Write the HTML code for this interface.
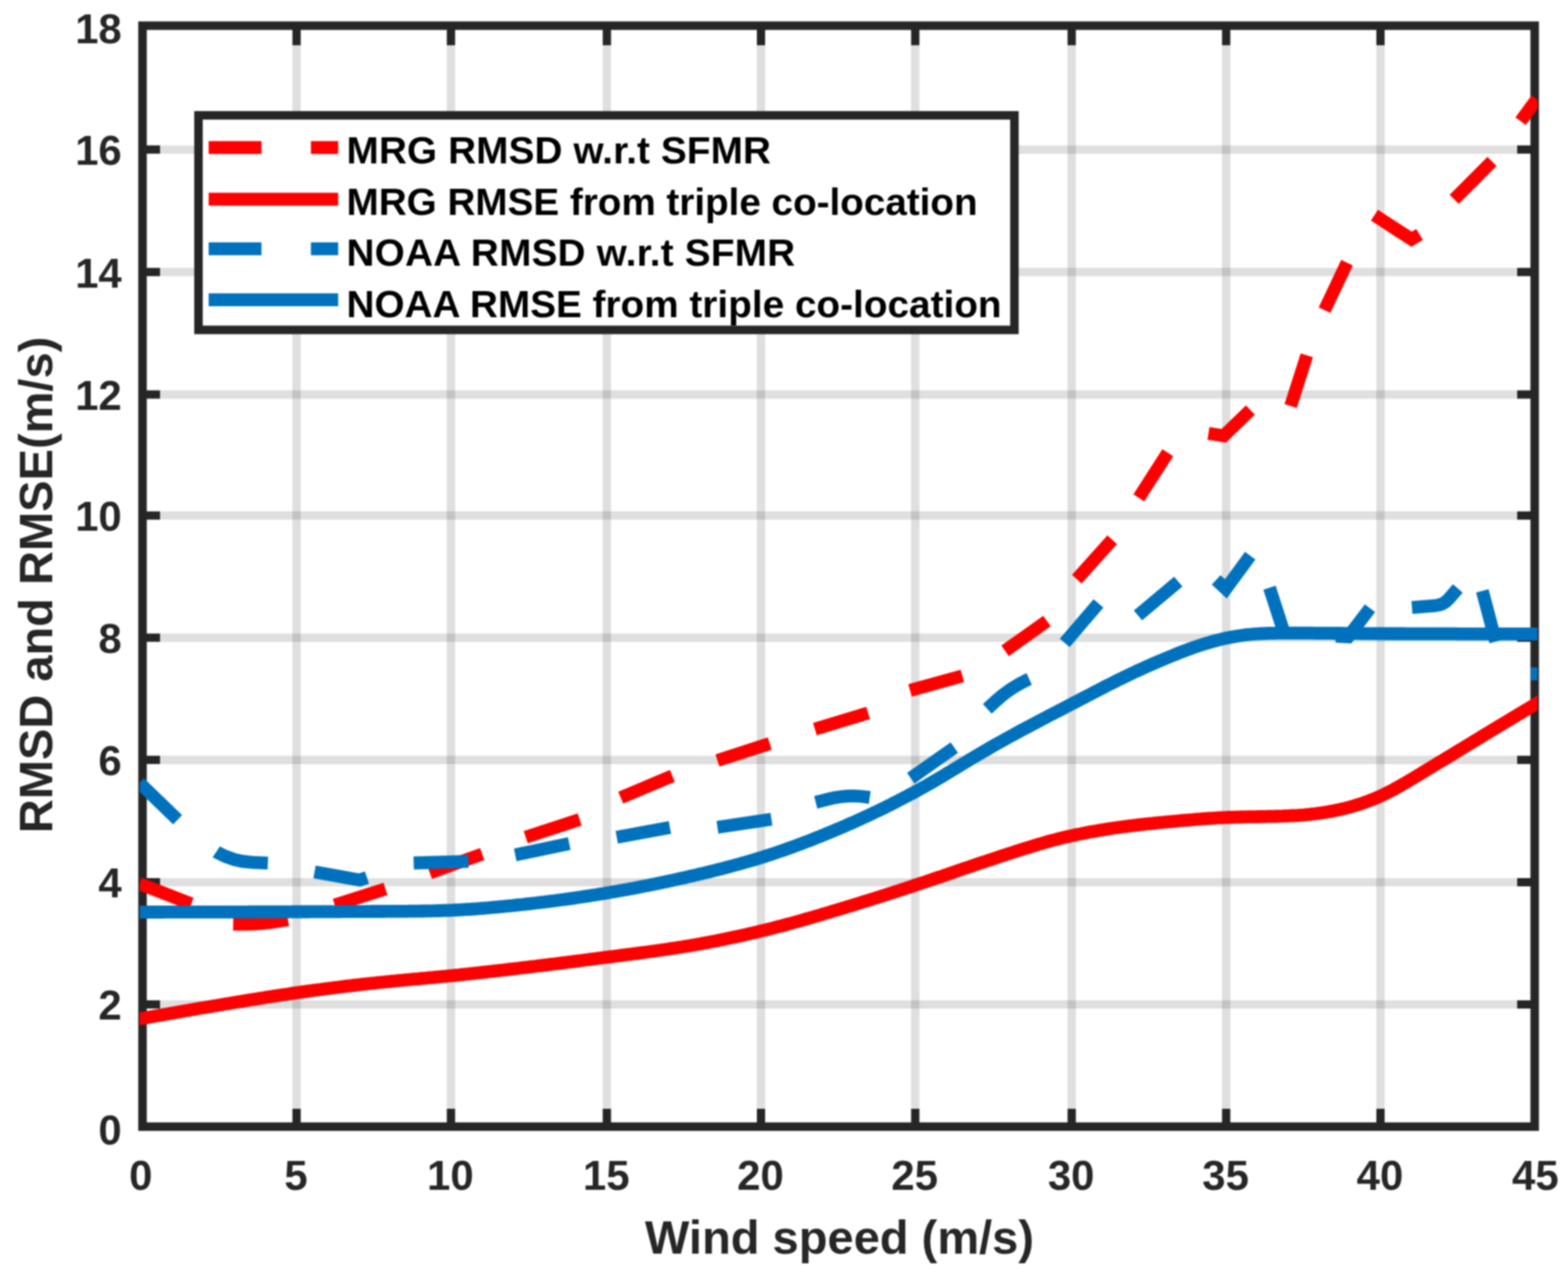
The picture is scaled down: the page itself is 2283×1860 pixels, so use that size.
<!DOCTYPE html>
<html lang="en"><head><meta charset="utf-8"><title>RMSD and RMSE vs wind speed</title>
<style>html,body{margin:0;padding:0;background:#fff;}body{width:2283px;height:1860px;}svg{display:block;filter:blur(1px);}text{font-family:"Liberation Sans",Arial,Helvetica,sans-serif;font-weight:bold;}</style>
</head><body>
<svg width="2283" height="1860" viewBox="0 0 2283 1860">
<rect x="0" y="0" width="2283" height="1860" fill="#ffffff"/>
<g stroke="#262626" stroke-opacity="0.15" stroke-width="12.2" fill="none">
<line x1="431.8" y1="37.4" x2="431.8" y2="1641.0"/>
<line x1="656.6" y1="37.4" x2="656.6" y2="1641.0"/>
<line x1="883.6" y1="37.4" x2="883.6" y2="1641.0"/>
<line x1="1108.0" y1="37.4" x2="1108.0" y2="1641.0"/>
<line x1="1332.6" y1="37.4" x2="1332.6" y2="1641.0"/>
<line x1="1560.4" y1="37.4" x2="1560.4" y2="1641.0"/>
<line x1="1785.3" y1="37.4" x2="1785.3" y2="1641.0"/>
<line x1="2010.0" y1="37.4" x2="2010.0" y2="1641.0"/>
<line x1="207.5" y1="1463.0" x2="2234.5" y2="1463.0"/>
<line x1="207.5" y1="1285.0" x2="2234.5" y2="1285.0"/>
<line x1="207.5" y1="1106.8" x2="2234.5" y2="1106.8"/>
<line x1="207.5" y1="928.8" x2="2234.5" y2="928.8"/>
<line x1="207.5" y1="750.9" x2="2234.5" y2="750.9"/>
<line x1="207.5" y1="574.6" x2="2234.5" y2="574.6"/>
<line x1="207.5" y1="396.2" x2="2234.5" y2="396.2"/>
<line x1="207.5" y1="217.8" x2="2234.5" y2="217.8"/>
</g>
<g stroke="#262626" stroke-width="12.4" fill="none" stroke-linecap="butt">
<rect x="207.5" y="37.4" width="2027.0" height="1603.6"/>
</g>
<g stroke="#262626" stroke-width="12" fill="none" stroke-linecap="butt">
<line x1="431.8" y1="1641.0" x2="431.8" y2="1615.0"/>
<line x1="431.8" y1="37.4" x2="431.8" y2="65.9"/>
<line x1="656.6" y1="1641.0" x2="656.6" y2="1615.0"/>
<line x1="656.6" y1="37.4" x2="656.6" y2="65.9"/>
<line x1="883.6" y1="1641.0" x2="883.6" y2="1615.0"/>
<line x1="883.6" y1="37.4" x2="883.6" y2="65.9"/>
<line x1="1108.0" y1="1641.0" x2="1108.0" y2="1615.0"/>
<line x1="1108.0" y1="37.4" x2="1108.0" y2="65.9"/>
<line x1="1332.6" y1="1641.0" x2="1332.6" y2="1615.0"/>
<line x1="1332.6" y1="37.4" x2="1332.6" y2="65.9"/>
<line x1="1560.4" y1="1641.0" x2="1560.4" y2="1615.0"/>
<line x1="1560.4" y1="37.4" x2="1560.4" y2="65.9"/>
<line x1="1785.3" y1="1641.0" x2="1785.3" y2="1615.0"/>
<line x1="1785.3" y1="37.4" x2="1785.3" y2="65.9"/>
<line x1="2010.0" y1="1641.0" x2="2010.0" y2="1615.0"/>
<line x1="2010.0" y1="37.4" x2="2010.0" y2="65.9"/>
<line x1="207.5" y1="1463.0" x2="233.0" y2="1463.0"/>
<line x1="2234.5" y1="1463.0" x2="2209.0" y2="1463.0"/>
<line x1="207.5" y1="1285.0" x2="233.0" y2="1285.0"/>
<line x1="2234.5" y1="1285.0" x2="2209.0" y2="1285.0"/>
<line x1="207.5" y1="1106.8" x2="233.0" y2="1106.8"/>
<line x1="2234.5" y1="1106.8" x2="2209.0" y2="1106.8"/>
<line x1="207.5" y1="928.8" x2="233.0" y2="928.8"/>
<line x1="2234.5" y1="928.8" x2="2209.0" y2="928.8"/>
<line x1="207.5" y1="750.9" x2="233.0" y2="750.9"/>
<line x1="2234.5" y1="750.9" x2="2209.0" y2="750.9"/>
<line x1="207.5" y1="574.6" x2="233.0" y2="574.6"/>
<line x1="2234.5" y1="574.6" x2="2209.0" y2="574.6"/>
<line x1="207.5" y1="396.2" x2="233.0" y2="396.2"/>
<line x1="2234.5" y1="396.2" x2="2209.0" y2="396.2"/>
<line x1="207.5" y1="217.8" x2="233.0" y2="217.8"/>
<line x1="2234.5" y1="217.8" x2="2209.0" y2="217.8"/>
</g>
<defs><clipPath id="plotclip"><rect x="203.5" y="30" width="2035.1" height="1620.0"/></clipPath></defs>
<g clip-path="url(#plotclip)" fill="none" stroke-linecap="butt" stroke-linejoin="miter" stroke-width="18.8">
<path d="M203.0 1287.2 L278.5 1316.5" stroke="#ff0000"/>
<path d="M339.5 1346.0 L352.0 1346.2 Q380.0 1346.5 407.6 1341.6 L419.3 1339.5" stroke="#ff0000"/>
<path d="M487.4 1318.2 L561.3 1294.7" stroke="#ff0000"/>
<path d="M625.8 1271.3 L702.1 1244.0" stroke="#ff0000"/>
<path d="M765.4 1219.4 L844.0 1193.6" stroke="#ff0000"/>
<path d="M903.8 1161.9 L978.9 1130.2" stroke="#ff0000"/>
<path d="M1044.6 1107.6 L1120.8 1083.0" stroke="#ff0000"/>
<path d="M1186.5 1061.9 L1264.0 1038.4" stroke="#ff0000"/>
<path d="M1325.0 1005.6 L1401.2 984.5" stroke="#ff0000"/>
<path d="M1463.4 948.0 L1524.4 904.6" stroke="#ff0000"/>
<path d="M1567.8 843.6 L1619.4 786.1" stroke="#ff0000"/>
<path d="M1658.1 725.1 L1700.3 659.4" stroke="#ff0000"/>
<path d="M1759.5 631.3 L1781.8 634.8 L1820.6 597.3" stroke="#ff0000"/>
<path d="M1879.2 591.4 L1902.7 517.5" stroke="#ff0000"/>
<path d="M1928.5 451.8 L1961.3 382.6" stroke="#ff0000"/>
<path d="M2001.2 313.4 L2055.2 348.5 L2066.9 341.5" stroke="#ff0000"/>
<path d="M2117.3 290.3 L2172.4 235.2" stroke="#ff0000"/>
<path d="M2214.0 176.5 L2237.5 144.5" stroke="#ff0000"/>
<path d="M194.5 1485.6 L198.1 1484.9 L201.7 1484.3 L205.2 1483.6 L208.8 1483.0 L212.4 1482.4 L216.0 1481.7 L219.6 1481.1 L223.2 1480.4 L226.7 1479.8 L230.3 1479.2 L233.9 1478.5 L237.5 1477.9 L241.1 1477.3 L244.7 1476.7 L248.2 1476.0 L251.8 1475.4 L255.4 1474.8 L259.0 1474.2 L262.6 1473.5 L266.1 1472.9 L269.7 1472.3 L273.3 1471.7 L276.9 1471.1 L280.5 1470.4 L284.1 1469.8 L287.6 1469.2 L291.2 1468.6 L294.8 1468.0 L298.4 1467.4 L302.0 1466.8 L305.6 1466.2 L309.1 1465.6 L312.7 1465.0 L316.3 1464.4 L319.9 1463.8 L323.5 1463.2 L327.1 1462.6 L330.6 1462.0 L334.2 1461.4 L337.8 1460.8 L341.4 1460.2 L345.0 1459.6 L348.6 1459.0 L352.1 1458.4 L355.7 1457.8 L359.3 1457.2 L362.9 1456.6 L366.5 1456.0 L370.1 1455.5 L373.6 1454.9 L377.2 1454.3 L380.8 1453.7 L384.4 1453.2 L388.0 1452.6 L391.6 1452.0 L395.1 1451.5 L398.7 1450.9 L402.3 1450.4 L405.9 1449.8 L409.5 1449.3 L413.0 1448.7 L416.6 1448.2 L420.2 1447.7 L423.8 1447.1 L427.4 1446.6 L431.0 1446.1 L434.5 1445.6 L438.1 1445.1 L441.7 1444.6 L445.3 1444.1 L448.9 1443.6 L452.5 1443.1 L456.0 1442.6 L459.6 1442.1 L463.2 1441.7 L466.8 1441.2 L470.4 1440.7 L474.0 1440.2 L477.5 1439.8 L481.1 1439.3 L484.7 1438.9 L488.3 1438.4 L491.9 1438.0 L495.5 1437.5 L499.0 1437.1 L502.6 1436.6 L506.2 1436.2 L509.8 1435.8 L513.4 1435.4 L517.0 1434.9 L520.5 1434.5 L524.1 1434.1 L527.7 1433.7 L531.3 1433.3 L534.9 1432.9 L538.5 1432.5 L542.0 1432.1 L545.6 1431.8 L549.2 1431.4 L552.8 1431.0 L556.4 1430.6 L559.9 1430.3 L563.5 1429.9 L567.1 1429.6 L570.7 1429.2 L574.3 1428.9 L577.9 1428.5 L581.4 1428.2 L585.0 1427.9 L588.6 1427.5 L592.2 1427.2 L595.8 1426.9 L599.4 1426.5 L602.9 1426.2 L606.5 1425.9 L610.1 1425.6 L613.7 1425.2 L617.3 1424.9 L620.9 1424.6 L624.4 1424.2 L628.0 1423.9 L631.6 1423.6 L635.2 1423.2 L638.8 1422.9 L642.4 1422.5 L645.9 1422.2 L649.5 1421.9 L653.1 1421.5 L656.7 1421.1 L660.3 1420.8 L663.9 1420.4 L667.4 1420.1 L671.0 1419.7 L674.6 1419.3 L678.2 1418.9 L681.8 1418.6 L685.4 1418.2 L688.9 1417.8 L692.5 1417.4 L696.1 1417.0 L699.7 1416.6 L703.3 1416.2 L706.8 1415.8 L710.4 1415.4 L714.0 1415.0 L717.6 1414.6 L721.2 1414.2 L724.8 1413.8 L728.3 1413.4 L731.9 1413.0 L735.5 1412.6 L739.1 1412.1 L742.7 1411.7 L746.3 1411.3 L749.8 1410.9 L753.4 1410.5 L757.0 1410.0 L760.6 1409.6 L764.2 1409.2 L767.8 1408.8 L771.3 1408.3 L774.9 1407.9 L778.5 1407.5 L782.1 1407.0 L785.7 1406.6 L789.3 1406.2 L792.8 1405.7 L796.4 1405.3 L800.0 1404.8 L803.6 1404.4 L807.2 1404.0 L810.8 1403.5 L814.3 1403.1 L817.9 1402.6 L821.5 1402.2 L825.1 1401.7 L828.7 1401.2 L832.3 1400.8 L835.8 1400.3 L839.4 1399.9 L843.0 1399.4 L846.6 1399.0 L850.2 1398.5 L853.7 1398.0 L857.3 1397.6 L860.9 1397.1 L864.5 1396.7 L868.1 1396.2 L871.7 1395.7 L875.2 1395.3 L878.8 1394.8 L882.4 1394.3 L886.0 1393.9 L889.6 1393.4 L893.2 1393.0 L896.7 1392.5 L900.3 1392.1 L903.9 1391.6 L907.5 1391.1 L911.1 1390.7 L914.7 1390.2 L918.2 1389.8 L921.8 1389.3 L925.4 1388.8 L929.0 1388.4 L932.6 1387.9 L936.2 1387.4 L939.7 1387.0 L943.3 1386.5 L946.9 1386.0 L950.5 1385.5 L954.1 1385.0 L957.7 1384.5 L961.2 1384.0 L964.8 1383.5 L968.4 1383.0 L972.0 1382.5 L975.6 1381.9 L979.2 1381.4 L982.7 1380.9 L986.3 1380.3 L989.9 1379.7 L993.5 1379.2 L997.1 1378.6 L1000.6 1378.0 L1004.2 1377.4 L1007.8 1376.8 L1011.4 1376.2 L1015.0 1375.5 L1018.6 1374.9 L1022.1 1374.2 L1025.7 1373.6 L1029.3 1372.9 L1032.9 1372.2 L1036.5 1371.6 L1040.1 1370.9 L1043.6 1370.2 L1047.2 1369.4 L1050.8 1368.7 L1054.4 1368.0 L1058.0 1367.3 L1061.6 1366.5 L1065.1 1365.8 L1068.7 1365.0 L1072.3 1364.2 L1075.9 1363.4 L1079.5 1362.7 L1083.1 1361.9 L1086.6 1361.1 L1090.2 1360.2 L1093.8 1359.4 L1097.4 1358.6 L1101.0 1357.8 L1104.6 1356.9 L1108.1 1356.0 L1111.7 1355.2 L1115.3 1354.3 L1118.9 1353.4 L1122.5 1352.5 L1126.1 1351.6 L1129.6 1350.7 L1133.2 1349.7 L1136.8 1348.8 L1140.4 1347.9 L1144.0 1346.9 L1147.5 1345.9 L1151.1 1345.0 L1154.7 1344.0 L1158.3 1343.0 L1161.9 1342.0 L1165.5 1341.0 L1169.0 1339.9 L1172.6 1338.9 L1176.2 1337.9 L1179.8 1336.9 L1183.4 1335.8 L1187.0 1334.8 L1190.5 1333.7 L1194.1 1332.7 L1197.7 1331.6 L1201.3 1330.5 L1204.9 1329.5 L1208.5 1328.4 L1212.0 1327.3 L1215.6 1326.3 L1219.2 1325.2 L1222.8 1324.1 L1226.4 1323.0 L1230.0 1321.9 L1233.5 1320.9 L1237.1 1319.8 L1240.7 1318.7 L1244.3 1317.6 L1247.9 1316.5 L1251.5 1315.4 L1255.0 1314.2 L1258.6 1313.1 L1262.2 1312.0 L1265.8 1310.9 L1269.4 1309.8 L1273.0 1308.6 L1276.5 1307.5 L1280.1 1306.4 L1283.7 1305.2 L1287.3 1304.1 L1290.9 1302.9 L1294.5 1301.8 L1298.0 1300.6 L1301.6 1299.5 L1305.2 1298.3 L1308.8 1297.1 L1312.4 1296.0 L1315.9 1294.8 L1319.5 1293.6 L1323.1 1292.4 L1326.7 1291.3 L1330.3 1290.1 L1333.9 1288.9 L1337.4 1287.7 L1341.0 1286.5 L1344.6 1285.3 L1348.2 1284.1 L1351.8 1282.9 L1355.4 1281.7 L1358.9 1280.5 L1362.5 1279.2 L1366.1 1278.0 L1369.7 1276.8 L1373.3 1275.6 L1376.9 1274.3 L1380.4 1273.1 L1384.0 1271.9 L1387.6 1270.6 L1391.2 1269.4 L1394.8 1268.2 L1398.4 1267.0 L1401.9 1265.7 L1405.5 1264.5 L1409.1 1263.3 L1412.7 1262.1 L1416.3 1260.9 L1419.9 1259.6 L1423.4 1258.4 L1427.0 1257.2 L1430.6 1256.0 L1434.2 1254.8 L1437.8 1253.6 L1441.4 1252.5 L1444.9 1251.3 L1448.5 1250.1 L1452.1 1248.9 L1455.7 1247.7 L1459.3 1246.5 L1462.8 1245.4 L1466.4 1244.2 L1470.0 1243.0 L1473.6 1241.9 L1477.2 1240.7 L1480.8 1239.5 L1484.3 1238.4 L1487.9 1237.2 L1491.5 1236.1 L1495.1 1235.0 L1498.7 1233.9 L1502.3 1232.8 L1505.8 1231.7 L1509.4 1230.6 L1513.0 1229.5 L1516.6 1228.5 L1520.2 1227.4 L1523.8 1226.4 L1527.3 1225.4 L1530.9 1224.4 L1534.5 1223.5 L1538.1 1222.6 L1541.7 1221.6 L1545.3 1220.7 L1548.8 1219.9 L1552.4 1219.0 L1556.0 1218.2 L1559.6 1217.4 L1563.2 1216.6 L1566.8 1215.8 L1570.3 1215.1 L1573.9 1214.4 L1577.5 1213.7 L1581.1 1213.0 L1584.7 1212.3 L1588.3 1211.6 L1591.8 1211.0 L1595.4 1210.4 L1599.0 1209.7 L1602.6 1209.1 L1606.2 1208.6 L1609.7 1208.0 L1613.3 1207.4 L1616.9 1206.9 L1620.5 1206.3 L1624.1 1205.8 L1627.7 1205.3 L1631.2 1204.8 L1634.8 1204.3 L1638.4 1203.8 L1642.0 1203.4 L1645.6 1202.9 L1649.2 1202.5 L1652.7 1202.0 L1656.3 1201.6 L1659.9 1201.2 L1663.5 1200.8 L1667.1 1200.4 L1670.7 1200.0 L1674.2 1199.6 L1677.8 1199.3 L1681.4 1198.9 L1685.0 1198.5 L1688.6 1198.2 L1692.2 1197.9 L1695.7 1197.5 L1699.3 1197.2 L1702.9 1196.8 L1706.5 1196.5 L1710.1 1196.2 L1713.7 1195.9 L1717.2 1195.5 L1720.8 1195.2 L1724.4 1194.9 L1728.0 1194.6 L1731.6 1194.3 L1735.2 1194.0 L1738.7 1193.7 L1742.3 1193.4 L1745.9 1193.1 L1749.5 1192.8 L1753.1 1192.5 L1756.6 1192.3 L1760.2 1192.0 L1763.8 1191.8 L1767.4 1191.6 L1771.0 1191.4 L1774.6 1191.2 L1778.1 1191.0 L1781.7 1190.8 L1785.3 1190.7 L1788.9 1190.5 L1792.5 1190.4 L1796.1 1190.3 L1799.6 1190.2 L1803.2 1190.1 L1806.8 1190.0 L1810.4 1189.9 L1814.0 1189.8 L1817.6 1189.7 L1821.1 1189.7 L1824.7 1189.6 L1828.3 1189.6 L1831.9 1189.5 L1835.5 1189.4 L1839.1 1189.4 L1842.6 1189.3 L1846.2 1189.2 L1849.8 1189.2 L1853.4 1189.1 L1857.0 1189.0 L1860.6 1188.9 L1864.1 1188.8 L1867.7 1188.7 L1871.3 1188.5 L1874.9 1188.4 L1878.5 1188.2 L1882.1 1188.0 L1885.6 1187.8 L1889.2 1187.6 L1892.8 1187.3 L1896.4 1187.1 L1900.0 1186.8 L1903.5 1186.4 L1907.1 1186.1 L1910.7 1185.7 L1914.3 1185.3 L1917.9 1184.8 L1921.5 1184.4 L1925.0 1183.9 L1928.6 1183.3 L1932.2 1182.7 L1935.8 1182.1 L1939.4 1181.4 L1943.0 1180.7 L1946.5 1180.0 L1950.1 1179.2 L1953.7 1178.4 L1957.3 1177.6 L1960.9 1176.7 L1964.5 1175.7 L1968.0 1174.7 L1971.6 1173.7 L1975.2 1172.6 L1978.8 1171.5 L1982.4 1170.3 L1986.0 1169.1 L1989.5 1167.8 L1993.1 1166.5 L1996.7 1165.1 L2000.3 1163.7 L2003.9 1162.2 L2007.5 1160.6 L2011.0 1159.0 L2014.6 1157.3 L2018.2 1155.5 L2021.8 1153.7 L2025.4 1151.9 L2029.0 1150.0 L2032.5 1148.0 L2036.1 1146.0 L2039.7 1144.0 L2043.3 1141.9 L2046.9 1139.9 L2050.4 1137.8 L2054.0 1135.6 L2057.6 1133.5 L2061.2 1131.3 L2064.8 1129.2 L2068.4 1127.0 L2071.9 1124.8 L2075.5 1122.7 L2079.1 1120.5 L2082.7 1118.3 L2086.3 1116.1 L2089.9 1114.0 L2093.4 1111.8 L2097.0 1109.6 L2100.6 1107.4 L2104.2 1105.2 L2107.8 1103.0 L2111.4 1100.9 L2114.9 1098.7 L2118.5 1096.5 L2122.1 1094.3 L2125.7 1092.1 L2129.3 1089.9 L2132.9 1087.8 L2136.4 1085.6 L2140.0 1083.4 L2143.6 1081.2 L2147.2 1079.0 L2150.8 1076.9 L2154.4 1074.7 L2157.9 1072.5 L2161.5 1070.3 L2165.1 1068.2 L2168.7 1066.0 L2172.3 1063.8 L2175.9 1061.7 L2179.4 1059.5 L2183.0 1057.3 L2186.6 1055.2 L2190.2 1053.0 L2193.8 1050.9 L2197.3 1048.7 L2200.9 1046.5 L2204.5 1044.4 L2208.1 1042.2 L2211.7 1040.0 L2215.3 1037.9 L2218.8 1035.7 L2222.4 1033.6 L2226.0 1031.4 L2229.6 1029.2 L2233.2 1027.1 L2236.8 1024.9 L2240.3 1022.8 L2243.9 1020.6 L2247.5 1018.4" stroke="#ff0000"/>
<path d="M203.0 1140.2 L258.6 1193.9" stroke="#0072bd"/>
<path d="M314.9 1240.8 L315.2 1241.0 Q339.5 1254.9 367.5 1256.2 L390.0 1257.2" stroke="#0072bd"/>
<path d="M458.0 1270.1 L523.7 1281.8 L534.3 1278.3" stroke="#0072bd"/>
<path d="M602.3 1257.0 L682.1 1254.6" stroke="#0072bd"/>
<path d="M750.2 1245.2 L828.8 1228.8" stroke="#0072bd"/>
<path d="M898.0 1219.4 L975.4 1205.3" stroke="#0072bd"/>
<path d="M1044.6 1205.0 L1123.2 1193.3" stroke="#0072bd"/>
<path d="M1187.7 1168.7 L1207.4 1163.7 Q1234.6 1156.9 1262.3 1161.0 L1266.3 1161.6" stroke="#0072bd"/>
<path d="M1326.1 1133.5 L1389.5 1088.9" stroke="#0072bd"/>
<path d="M1437.5 1032.5 L1449.9 1021.0 Q1470.4 1002.0 1495.8 990.2 L1498.5 989.0" stroke="#0072bd"/>
<path d="M1550.2 936.3 L1599.4 878.8" stroke="#0072bd"/>
<path d="M1656.9 896.4 L1715.6 847.1" stroke="#0072bd"/>
<path d="M1770.7 844.7 L1784.8 857.7 L1820.3 809.4" stroke="#0072bd"/>
<path d="M1848.4 856.0 L1870.0 923.0" stroke="#0072bd"/>
<path d="M1945.0 926.5 L1963.0 927.5 L1994.7 885.9" stroke="#0072bd"/>
<path d="M2055.8 884.8 L2089.8 882.2 Q2101.8 881.3 2109.6 872.2 L2122.6 857.1" stroke="#0072bd"/>
<path d="M2158.3 860.6 L2177.8 934.5" stroke="#0072bd"/>
<path d="M2229.0 981.5 L2243.0 981.5" stroke="#0072bd"/>
<path d="M194.5 1328.5 L198.1 1328.5 L201.7 1328.5 L205.2 1328.5 L208.8 1328.5 L212.4 1328.5 L216.0 1328.5 L219.6 1328.5 L223.2 1328.5 L226.7 1328.5 L230.3 1328.5 L233.9 1328.5 L237.5 1328.5 L241.1 1328.4 L244.7 1328.4 L248.2 1328.4 L251.8 1328.4 L255.4 1328.4 L259.0 1328.4 L262.6 1328.4 L266.1 1328.4 L269.7 1328.4 L273.3 1328.4 L276.9 1328.4 L280.5 1328.4 L284.1 1328.4 L287.6 1328.4 L291.2 1328.4 L294.8 1328.4 L298.4 1328.4 L302.0 1328.4 L305.6 1328.4 L309.1 1328.4 L312.7 1328.3 L316.3 1328.3 L319.9 1328.3 L323.5 1328.3 L327.1 1328.3 L330.6 1328.3 L334.2 1328.3 L337.8 1328.3 L341.4 1328.3 L345.0 1328.3 L348.6 1328.3 L352.1 1328.3 L355.7 1328.3 L359.3 1328.3 L362.9 1328.2 L366.5 1328.2 L370.1 1328.2 L373.6 1328.2 L377.2 1328.2 L380.8 1328.2 L384.4 1328.2 L388.0 1328.2 L391.6 1328.2 L395.1 1328.2 L398.7 1328.1 L402.3 1328.1 L405.9 1328.1 L409.5 1328.1 L413.0 1328.1 L416.6 1328.1 L420.2 1328.1 L423.8 1328.1 L427.4 1328.0 L431.0 1328.0 L434.5 1328.0 L438.1 1328.0 L441.7 1328.0 L445.3 1328.0 L448.9 1328.0 L452.5 1327.9 L456.0 1327.9 L459.6 1327.9 L463.2 1327.9 L466.8 1327.9 L470.4 1327.9 L474.0 1327.9 L477.5 1327.8 L481.1 1327.8 L484.7 1327.8 L488.3 1327.8 L491.9 1327.8 L495.5 1327.8 L499.0 1327.7 L502.6 1327.7 L506.2 1327.7 L509.8 1327.7 L513.4 1327.7 L517.0 1327.7 L520.5 1327.6 L524.1 1327.6 L527.7 1327.6 L531.3 1327.6 L534.9 1327.6 L538.5 1327.6 L542.0 1327.5 L545.6 1327.5 L549.2 1327.5 L552.8 1327.5 L556.4 1327.5 L559.9 1327.5 L563.5 1327.4 L567.1 1327.4 L570.7 1327.4 L574.3 1327.4 L577.9 1327.4 L581.4 1327.3 L585.0 1327.3 L588.6 1327.3 L592.2 1327.3 L595.8 1327.2 L599.4 1327.2 L602.9 1327.2 L606.5 1327.1 L610.1 1327.1 L613.7 1327.0 L617.3 1327.0 L620.9 1326.9 L624.4 1326.8 L628.0 1326.8 L631.6 1326.7 L635.2 1326.6 L638.8 1326.5 L642.4 1326.4 L645.9 1326.2 L649.5 1326.1 L653.1 1326.0 L656.7 1325.8 L660.3 1325.7 L663.9 1325.5 L667.4 1325.3 L671.0 1325.1 L674.6 1324.9 L678.2 1324.7 L681.8 1324.5 L685.4 1324.3 L688.9 1324.0 L692.5 1323.8 L696.1 1323.5 L699.7 1323.2 L703.3 1323.0 L706.8 1322.7 L710.4 1322.4 L714.0 1322.0 L717.6 1321.7 L721.2 1321.4 L724.8 1321.1 L728.3 1320.7 L731.9 1320.4 L735.5 1320.0 L739.1 1319.7 L742.7 1319.3 L746.3 1319.0 L749.8 1318.6 L753.4 1318.2 L757.0 1317.8 L760.6 1317.5 L764.2 1317.1 L767.8 1316.7 L771.3 1316.3 L774.9 1315.9 L778.5 1315.5 L782.1 1315.0 L785.7 1314.6 L789.3 1314.2 L792.8 1313.8 L796.4 1313.3 L800.0 1312.9 L803.6 1312.4 L807.2 1312.0 L810.8 1311.5 L814.3 1311.0 L817.9 1310.5 L821.5 1310.1 L825.1 1309.6 L828.7 1309.1 L832.3 1308.6 L835.8 1308.1 L839.4 1307.5 L843.0 1307.0 L846.6 1306.5 L850.2 1305.9 L853.7 1305.4 L857.3 1304.9 L860.9 1304.3 L864.5 1303.7 L868.1 1303.2 L871.7 1302.6 L875.2 1302.0 L878.8 1301.4 L882.4 1300.8 L886.0 1300.2 L889.6 1299.6 L893.2 1299.0 L896.7 1298.4 L900.3 1297.8 L903.9 1297.1 L907.5 1296.5 L911.1 1295.8 L914.7 1295.2 L918.2 1294.5 L921.8 1293.9 L925.4 1293.2 L929.0 1292.5 L932.6 1291.8 L936.2 1291.1 L939.7 1290.4 L943.3 1289.7 L946.9 1288.9 L950.5 1288.2 L954.1 1287.5 L957.7 1286.7 L961.2 1286.0 L964.8 1285.2 L968.4 1284.5 L972.0 1283.7 L975.6 1282.9 L979.2 1282.2 L982.7 1281.4 L986.3 1280.6 L989.9 1279.8 L993.5 1279.0 L997.1 1278.2 L1000.6 1277.4 L1004.2 1276.5 L1007.8 1275.7 L1011.4 1274.9 L1015.0 1274.1 L1018.6 1273.2 L1022.1 1272.4 L1025.7 1271.5 L1029.3 1270.6 L1032.9 1269.8 L1036.5 1268.9 L1040.1 1268.0 L1043.6 1267.1 L1047.2 1266.2 L1050.8 1265.3 L1054.4 1264.3 L1058.0 1263.4 L1061.6 1262.4 L1065.1 1261.5 L1068.7 1260.5 L1072.3 1259.5 L1075.9 1258.6 L1079.5 1257.6 L1083.1 1256.5 L1086.6 1255.5 L1090.2 1254.5 L1093.8 1253.4 L1097.4 1252.4 L1101.0 1251.3 L1104.6 1250.2 L1108.1 1249.1 L1111.7 1248.0 L1115.3 1246.8 L1118.9 1245.7 L1122.5 1244.5 L1126.1 1243.3 L1129.6 1242.1 L1133.2 1240.9 L1136.8 1239.7 L1140.4 1238.5 L1144.0 1237.2 L1147.5 1235.9 L1151.1 1234.6 L1154.7 1233.3 L1158.3 1232.0 L1161.9 1230.7 L1165.5 1229.4 L1169.0 1228.0 L1172.6 1226.6 L1176.2 1225.3 L1179.8 1223.9 L1183.4 1222.5 L1187.0 1221.0 L1190.5 1219.6 L1194.1 1218.2 L1197.7 1216.7 L1201.3 1215.3 L1204.9 1213.8 L1208.5 1212.3 L1212.0 1210.8 L1215.6 1209.3 L1219.2 1207.8 L1222.8 1206.3 L1226.4 1204.7 L1230.0 1203.2 L1233.5 1201.6 L1237.1 1200.0 L1240.7 1198.5 L1244.3 1196.9 L1247.9 1195.2 L1251.5 1193.6 L1255.0 1192.0 L1258.6 1190.3 L1262.2 1188.7 L1265.8 1187.0 L1269.4 1185.3 L1273.0 1183.6 L1276.5 1181.9 L1280.1 1180.2 L1283.7 1178.4 L1287.3 1176.7 L1290.9 1174.9 L1294.5 1173.1 L1298.0 1171.3 L1301.6 1169.5 L1305.2 1167.7 L1308.8 1165.8 L1312.4 1164.0 L1315.9 1162.1 L1319.5 1160.2 L1323.1 1158.3 L1326.7 1156.4 L1330.3 1154.5 L1333.9 1152.5 L1337.4 1150.6 L1341.0 1148.6 L1344.6 1146.6 L1348.2 1144.6 L1351.8 1142.5 L1355.4 1140.5 L1358.9 1138.4 L1362.5 1136.3 L1366.1 1134.2 L1369.7 1132.1 L1373.3 1129.9 L1376.9 1127.8 L1380.4 1125.6 L1384.0 1123.5 L1387.6 1121.3 L1391.2 1119.2 L1394.8 1117.0 L1398.4 1114.8 L1401.9 1112.6 L1405.5 1110.5 L1409.1 1108.3 L1412.7 1106.1 L1416.3 1104.0 L1419.9 1101.8 L1423.4 1099.7 L1427.0 1097.6 L1430.6 1095.5 L1434.2 1093.4 L1437.8 1091.3 L1441.4 1089.2 L1444.9 1087.2 L1448.5 1085.1 L1452.1 1083.1 L1455.7 1081.1 L1459.3 1079.1 L1462.8 1077.1 L1466.4 1075.1 L1470.0 1073.1 L1473.6 1071.2 L1477.2 1069.2 L1480.8 1067.3 L1484.3 1065.3 L1487.9 1063.4 L1491.5 1061.5 L1495.1 1059.6 L1498.7 1057.7 L1502.3 1055.8 L1505.8 1053.9 L1509.4 1052.0 L1513.0 1050.1 L1516.6 1048.2 L1520.2 1046.4 L1523.8 1044.5 L1527.3 1042.6 L1530.9 1040.7 L1534.5 1038.9 L1538.1 1037.0 L1541.7 1035.1 L1545.3 1033.3 L1548.8 1031.4 L1552.4 1029.5 L1556.0 1027.7 L1559.6 1025.8 L1563.2 1023.9 L1566.8 1022.1 L1570.3 1020.2 L1573.9 1018.3 L1577.5 1016.5 L1581.1 1014.6 L1584.7 1012.7 L1588.3 1010.9 L1591.8 1009.0 L1595.4 1007.1 L1599.0 1005.3 L1602.6 1003.4 L1606.2 1001.6 L1609.7 999.7 L1613.3 997.9 L1616.9 996.1 L1620.5 994.3 L1624.1 992.5 L1627.7 990.7 L1631.2 988.9 L1634.8 987.2 L1638.4 985.4 L1642.0 983.7 L1645.6 982.0 L1649.2 980.3 L1652.7 978.6 L1656.3 976.9 L1659.9 975.3 L1663.5 973.7 L1667.1 972.0 L1670.7 970.4 L1674.2 968.8 L1677.8 967.3 L1681.4 965.7 L1685.0 964.2 L1688.6 962.6 L1692.2 961.1 L1695.7 959.6 L1699.3 958.1 L1702.9 956.6 L1706.5 955.1 L1710.1 953.7 L1713.7 952.2 L1717.2 950.8 L1720.8 949.4 L1724.4 948.1 L1728.0 946.7 L1731.6 945.4 L1735.2 944.1 L1738.7 942.8 L1742.3 941.6 L1745.9 940.4 L1749.5 939.2 L1753.1 938.1 L1756.6 937.0 L1760.2 935.9 L1763.8 934.9 L1767.4 933.9 L1771.0 932.9 L1774.6 932.0 L1778.1 931.1 L1781.7 930.3 L1785.3 929.5 L1788.9 928.8 L1792.5 928.1 L1796.1 927.4 L1799.6 926.8 L1803.2 926.2 L1806.8 925.7 L1810.4 925.2 L1814.0 924.7 L1817.6 924.3 L1821.1 924.0 L1824.7 923.7 L1828.3 923.4 L1831.9 923.2 L1835.5 922.9 L1839.1 922.8 L1842.6 922.6 L1846.2 922.5 L1849.8 922.4 L1853.4 922.3 L1857.0 922.3 L1860.6 922.2 L1864.1 922.2 L1867.7 922.2 L1871.3 922.1 L1874.9 922.1 L1878.5 922.1 L1882.1 922.1 L1885.6 922.1 L1889.2 922.1 L1892.8 922.1 L1896.4 922.2 L1900.0 922.2 L1903.5 922.2 L1907.1 922.2 L1910.7 922.2 L1914.3 922.3 L1917.9 922.3 L1921.5 922.3 L1925.0 922.3 L1928.6 922.4 L1932.2 922.4 L1935.8 922.4 L1939.4 922.4 L1943.0 922.5 L1946.5 922.5 L1950.1 922.5 L1953.7 922.5 L1957.3 922.6 L1960.9 922.6 L1964.5 922.6 L1968.0 922.7 L1971.6 922.7 L1975.2 922.7 L1978.8 922.7 L1982.4 922.8 L1986.0 922.8 L1989.5 922.8 L1993.1 922.8 L1996.7 922.9 L2000.3 922.9 L2003.9 922.9 L2007.5 922.9 L2011.0 922.9 L2014.6 922.9 L2018.2 923.0 L2021.8 923.0 L2025.4 923.0 L2029.0 923.0 L2032.5 923.0 L2036.1 923.0 L2039.7 923.0 L2043.3 923.0 L2046.9 923.1 L2050.4 923.1 L2054.0 923.1 L2057.6 923.1 L2061.2 923.1 L2064.8 923.1 L2068.4 923.1 L2071.9 923.1 L2075.5 923.1 L2079.1 923.1 L2082.7 923.2 L2086.3 923.2 L2089.9 923.2 L2093.4 923.2 L2097.0 923.2 L2100.6 923.2 L2104.2 923.2 L2107.8 923.2 L2111.4 923.2 L2114.9 923.2 L2118.5 923.2 L2122.1 923.3 L2125.7 923.3 L2129.3 923.3 L2132.9 923.3 L2136.4 923.3 L2140.0 923.3 L2143.6 923.3 L2147.2 923.3 L2150.8 923.3 L2154.4 923.3 L2157.9 923.3 L2161.5 923.3 L2165.1 923.3 L2168.7 923.3 L2172.3 923.3 L2175.9 923.3 L2179.4 923.3 L2183.0 923.4 L2186.6 923.4 L2190.2 923.4 L2193.8 923.4 L2197.3 923.4 L2200.9 923.4 L2204.5 923.4 L2208.1 923.4 L2211.7 923.4 L2215.3 923.4 L2218.8 923.4 L2222.4 923.4 L2226.0 923.4 L2229.6 923.4 L2233.2 923.4 L2236.8 923.4 L2240.3 923.4 L2243.9 923.4 L2247.5 923.4" stroke="#0072bd"/>
</g>
<rect x="289.0" y="168.0" width="1188.0" height="312.5" fill="#ffffff" stroke="#262626" stroke-width="12.4"/>
<line x1="303.8" y1="214.9" x2="380.7" y2="214.9" stroke="#ff0000" stroke-width="18.8"/>
<line x1="452.7" y1="214.9" x2="492.4" y2="214.9" stroke="#ff0000" stroke-width="18.8"/>
<text class="lg" x="504.5" y="237.9" font-size="56.4" fill="#000000" textLength="618.0" lengthAdjust="spacing">MRG RMSD w.r.t SFMR</text>
<line x1="303.8" y1="290.1" x2="492.4" y2="290.1" stroke="#ff0000" stroke-width="18.8"/>
<text class="lg" x="504.5" y="312.5" font-size="56.4" fill="#000000" textLength="918.9" lengthAdjust="spacing">MRG RMSE from triple co-location</text>
<line x1="303.8" y1="362.4" x2="380.7" y2="362.4" stroke="#0072bd" stroke-width="18.8"/>
<line x1="452.7" y1="362.4" x2="492.4" y2="362.4" stroke="#0072bd" stroke-width="18.8"/>
<text class="lg" x="504.5" y="387.0" font-size="56.4" fill="#000000" textLength="653.2" lengthAdjust="spacing">NOAA RMSD w.r.t SFMR</text>
<line x1="303.8" y1="436.6" x2="492.4" y2="436.6" stroke="#0072bd" stroke-width="18.8"/>
<text class="lg" x="504.5" y="461.9" font-size="56.4" fill="#000000" textLength="953.8" lengthAdjust="spacing">NOAA RMSE from triple co-location</text>
<text class="yt" x="177.3" y="1485.3" font-size="61.0" fill="#262626" text-anchor="end">2</text>
<text class="yt" x="177.3" y="1307.3" font-size="61.0" fill="#262626" text-anchor="end">4</text>
<text class="yt" x="177.3" y="1129.1" font-size="61.0" fill="#262626" text-anchor="end">6</text>
<text class="yt" x="177.3" y="951.1" font-size="61.0" fill="#262626" text-anchor="end">8</text>
<text class="yt" x="177.3" y="773.2" font-size="61.0" fill="#262626" text-anchor="end">10</text>
<text class="yt" x="177.3" y="596.9" font-size="61.0" fill="#262626" text-anchor="end">12</text>
<text class="yt" x="177.3" y="418.5" font-size="61.0" fill="#262626" text-anchor="end">14</text>
<text class="yt" x="177.3" y="240.1" font-size="61.0" fill="#262626" text-anchor="end">16</text>
<text class="yt" x="177.3" y="62.6" font-size="61.0" fill="#262626" text-anchor="end">18</text>
<text class="yt" x="177.3" y="1667.4" font-size="61.0" fill="#262626" text-anchor="end">0</text>
<text class="xt" x="205.0" y="1732.6" font-size="61.0" fill="#262626" text-anchor="middle">0</text>
<text class="xt" x="431.0" y="1732.6" font-size="61.0" fill="#262626" text-anchor="middle">5</text>
<text class="xt" x="655.8" y="1732.6" font-size="61.0" fill="#262626" text-anchor="middle">10</text>
<text class="xt" x="882.8" y="1732.6" font-size="61.0" fill="#262626" text-anchor="middle">15</text>
<text class="xt" x="1107.2" y="1732.6" font-size="61.0" fill="#262626" text-anchor="middle">20</text>
<text class="xt" x="1331.8" y="1732.6" font-size="61.0" fill="#262626" text-anchor="middle">25</text>
<text class="xt" x="1559.6" y="1732.6" font-size="61.0" fill="#262626" text-anchor="middle">30</text>
<text class="xt" x="1784.5" y="1732.6" font-size="61.0" fill="#262626" text-anchor="middle">35</text>
<text class="xt" x="2009.2" y="1732.6" font-size="61.0" fill="#262626" text-anchor="middle">40</text>
<text class="xt" x="2235.5" y="1732.6" font-size="61.0" fill="#262626" text-anchor="middle">45</text>
<text class="xl" x="1222.3" y="1825.7" font-size="68.5" fill="#262626" text-anchor="middle">Wind speed (m/s)</text>
<text class="yl" transform="translate(76,852) rotate(-90)" font-size="68.5" fill="#262626" text-anchor="middle">RMSD and RMSE(m/s)</text>
</svg></body></html>
